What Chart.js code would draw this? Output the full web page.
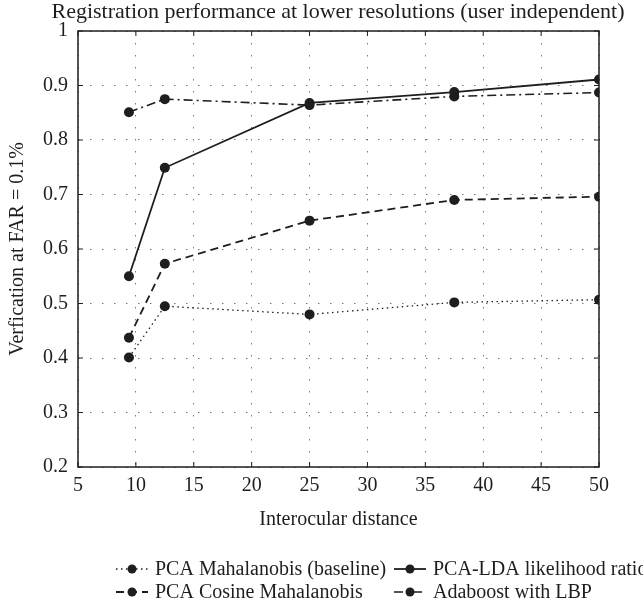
<!DOCTYPE html>
<html>
<head>
<meta charset="utf-8">
<script src="https://cdn.jsdelivr.net/npm/chart.js@4.4.1/dist/chart.umd.min.js"></script>
<style>
    html, body { margin: 0; padding: 0; background: #fff; }
    #wrap { width: 643px; height: 605px; position: relative; }
</style>
</head>
<body>
<div id="wrap"><canvas id="chart"></canvas></div>
<script>
// Interocular distances (x) and verification rates (y)
const distances = [9.4, 12.5, 25, 37.5, 50];
const pcaMahalanobis = [0.401, 0.495, 0.480, 0.502, 0.507];
const pcaLdaLikelihood = [0.550, 0.749, 0.868, 0.888, 0.911];
const pcaCosine = [0.437, 0.573, 0.652, 0.690, 0.696];
const adaboostLbp = [0.851, 0.875, 0.864, 0.880, 0.887];

const seriesNames = [
    'PCA Mahalanobis (baseline)',
    'PCA-LDA likelihood ratio',
    'PCA Cosine Mahalanobis',
    'Adaboost with LBP'
];
const xTicks = [5, 10, 15, 20, 25, 30, 35, 40, 45, 50];
const yTicks = [0.2, 0.3, 0.4, 0.5, 0.6, 0.7, 0.8, 0.9, 1];

const chartTitle = 'Registration performance at lower resolutions (user independent)';
const xTitle = 'Interocular distance';
const yTitle = 'Verfication at FAR = 0.1%';

const FONT = '"Liberation Serif", "DejaVu Serif", serif';
const INK = '#1e1e1e';

function toPoints(values) {
    return distances.map((d, i) => ({ x: d, y: values[i] }));
}

function makeDataset(label, values, dash, width) {
    return {
        label: label,
        data: toPoints(values),
        borderColor: INK,
        backgroundColor: INK,
        borderWidth: width,
        borderDash: dash,
        pointRadius: 5,
        pointHoverRadius: 5,
        pointBackgroundColor: INK,
        pointBorderColor: INK,
        pointBorderWidth: 0,
        fill: false,
        tension: 0
    };
}

// title, frame with inward ticks, and the legend under the axis
const decorations = {
    id: 'decorations',
    afterDraw(chart) {
        const { ctx, chartArea: a, scales } = chart;
        ctx.save();

        // title
        ctx.fillStyle = INK;
        ctx.font = '22px ' + FONT;
        ctx.textAlign = 'center';
        ctx.textBaseline = 'middle';
        ctx.fillText(chartTitle, 338, 12);

        // frame
        ctx.strokeStyle = INK;
        ctx.lineWidth = 1.5;
        ctx.setLineDash([]);
        ctx.strokeRect(a.left, a.top, a.right - a.left, a.bottom - a.top);

        // inward ticks on all four sides
        ctx.lineWidth = 1;
        const len = 5;
        xTicks.forEach(v => {
            const px = scales.x.getPixelForValue(v);
            ctx.beginPath();
            ctx.moveTo(px, a.bottom); ctx.lineTo(px, a.bottom - len);
            ctx.moveTo(px, a.top); ctx.lineTo(px, a.top + len);
            ctx.stroke();
        });
        yTicks.forEach(v => {
            const py = scales.y.getPixelForValue(v);
            ctx.beginPath();
            ctx.moveTo(a.left, py); ctx.lineTo(a.left + len, py);
            ctx.moveTo(a.right, py); ctx.lineTo(a.right - len, py);
            ctx.stroke();
        });

        // legend, two columns
        const slots = [
            { x: 116, y: 569 }, { x: 394, y: 569 },
            { x: 116, y: 592 }, { x: 394, y: 592 }
        ];
        ctx.font = '20px ' + FONT;
        ctx.textAlign = 'left';
        chart.data.datasets.forEach((ds, i) => {
            const s = slots[i];
            ctx.strokeStyle = INK;
            ctx.lineWidth = ds.borderWidth;
            ctx.setLineDash(ds.borderDash);
            ctx.beginPath();
            ctx.moveTo(s.x, s.y);
            ctx.lineTo(s.x + 32, s.y);
            ctx.stroke();
            ctx.setLineDash([]);
            ctx.beginPath();
            ctx.arc(s.x + 16, s.y, 4.5, 0, Math.PI * 2);
            ctx.fill();
            ctx.fillText(ds.label, s.x + 39, s.y + 1);
        });

        ctx.restore();
    }
};

const ctx = document.getElementById('chart').getContext('2d');
const chart = new Chart(ctx, {
    type: 'line',
    data: {
        datasets: [
            makeDataset(seriesNames[0], pcaMahalanobis, [1.5, 3.5], 1.3),
            makeDataset(seriesNames[1], pcaLdaLikelihood, [], 1.8),
            makeDataset(seriesNames[2], pcaCosine, [8, 5], 1.8),
            makeDataset(seriesNames[3], adaboostLbp, [9, 4, 2, 4], 1.6)
        ]
    },
    options: {
        responsive: true,
        maintainAspectRatio: false,
        animation: false,
        layout: { padding: { top: 31, right: 44, bottom: 68, left: 0 } },
        plugins: {
            legend: { display: false },
            title: { display: false },
            tooltip: { enabled: false }
        },
        scales: {
            x: {
                type: 'linear',
                min: 5,
                max: 50,
                afterBuildTicks: scale => { scale.ticks = xTicks.map(v => ({ value: v })); },
                afterFit: scale => { scale.height = 70; },
                grid: { color: '#777', lineWidth: 1, drawTicks: false },
                border: { display: false, dash: [1.5, 10.5] },
                ticks: { color: INK, font: { family: FONT, size: 20 }, padding: 7, maxRotation: 0 },
                title: {
                    display: true,
                    text: xTitle,
                    color: INK,
                    font: { family: FONT, size: 20 },
                    padding: { top: 0, bottom: 5 }
                }
            },
            y: {
                min: 0.2,
                max: 1,
                afterBuildTicks: scale => { scale.ticks = yTicks.map(v => ({ value: v })); },
                afterFit: scale => { scale.width = 78; },
                grid: { color: '#777', lineWidth: 1, drawTicks: false },
                border: { display: false, dash: [1.5, 10.5] },
                ticks: {
                    color: INK,
                    font: { family: FONT, size: 20 },
                    padding: 10,
                    callback: v => String(Math.round(v * 10) / 10)
                },
                title: {
                    display: true,
                    text: yTitle,
                    color: INK,
                    font: { family: FONT, size: 20 },
                    padding: { top: 6, bottom: 0 }
                }
            }
        }
    },
    plugins: [decorations]
});
</script>
</body>
</html>
